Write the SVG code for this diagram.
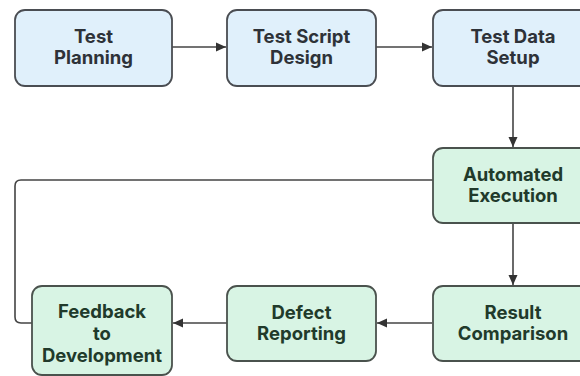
<svg xmlns="http://www.w3.org/2000/svg" width="580" height="376" viewBox="0 0 580 376">
<style>
.blue rect{fill:#e0f0fb;stroke:#4a4d52;stroke-width:1.8}
.green rect{fill:#d8f4e4;stroke:#4a524d;stroke-width:1.8}
text{font-family:Inter,"Noto Sans","Liberation Sans",sans-serif;font-size:18.5px;font-weight:700;text-anchor:middle}
.blue text{fill:#2e3238}
.green text{fill:#213a2b}
.conn path{fill:none;stroke:#444;stroke-width:1.6}
</style>
<defs>
<marker id="ah" viewBox="0 0 10 10" refX="10" refY="5" markerWidth="10" markerHeight="10" markerUnits="userSpaceOnUse" orient="auto">
<path d="M0,0.5 L10,5 L0,9.5 z" fill="#333"/>
</marker>
</defs>
<rect width="580" height="376" fill="#ffffff"/>
<g class="conn">
<path d="M172,47 L226,47" marker-end="url(#ah)"/>
<path d="M376,47 L432,47" marker-end="url(#ah)"/>
<path d="M513,86 L513,147" marker-end="url(#ah)"/>
<path d="M513,223 L513,285" marker-end="url(#ah)"/>
<path d="M432,323 L377,323" marker-end="url(#ah)"/>
<path d="M227,323 L173,323" marker-end="url(#ah)"/>
<path d="M433,180 L21,180 Q15,180 15,186 L15,317 Q15,323 21,323 L32,323"/>
</g>
<g id="test-planning" class="blue">
<rect x="15" y="10" width="157" height="76" rx="10"/>
<text x="93.5" y="43">Test</text>
<text x="93.5" y="64">Planning</text>
</g>
<g id="test-script-design" class="blue">
<rect x="227" y="10" width="149" height="76" rx="10"/>
<text x="301.5" y="43">Test Script</text>
<text x="301.5" y="64">Design</text>
</g>
<g id="test-data-setup" class="blue">
<rect x="433" y="10" width="160" height="76" rx="10"/>
<text x="513" y="43">Test Data</text>
<text x="513" y="64">Setup</text>
</g>
<g id="automated-execution" class="green">
<rect x="433" y="148" width="160" height="75" rx="10"/>
<text x="513" y="181">Automated</text>
<text x="513" y="202">Execution</text>
</g>
<g id="result-comparison" class="green">
<rect x="433" y="286" width="160" height="75" rx="10"/>
<text x="513" y="319">Result</text>
<text x="513" y="340">Comparison</text>
</g>
<g id="defect-reporting" class="green">
<rect x="227" y="286" width="149" height="75" rx="10"/>
<text x="301.5" y="319">Defect</text>
<text x="301.5" y="340">Reporting</text>
</g>
<g id="feedback-to-development" class="green">
<rect x="32" y="286" width="140" height="89" rx="10"/>
<text x="102" y="318">Feedback</text>
<text x="102" y="340">to</text>
<text x="102" y="362">Development</text>
</g>
</svg>
